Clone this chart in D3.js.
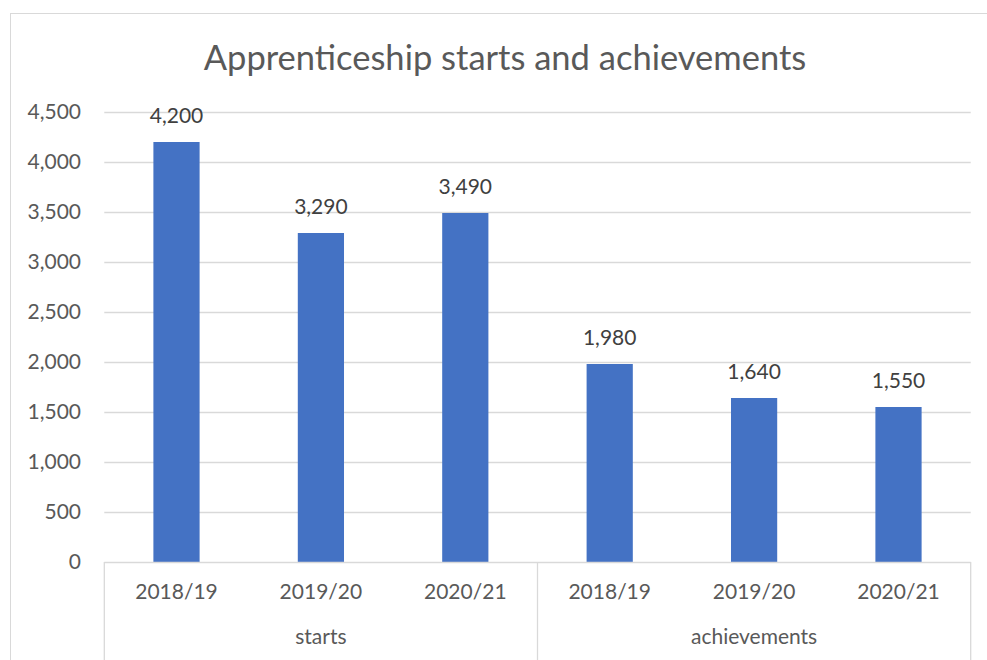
<!DOCTYPE html>
<html><head><meta charset="utf-8">
<script src="https://cdn.jsdelivr.net/npm/d3@7"></script>
<style>html,body{margin:0;padding:0;background:#fff;}svg{display:block;font-family:Lato,"Open Sans",sans-serif;}</style>
</head><body>
<script>
const title = "Apprenticeship starts and achievements";
const years = ["2018/19","2019/20","2020/21","2018/19","2019/20","2020/21"];
const groups = ["starts","achievements"];
const values = [4200,3290,3490,1980,1640,1550];
const yTicks = [0,500,1000,1500,2000,2500,3000,3500,4000,4500];

(function(){
const W = 987, H = 660;
const pLeft = 104.3, pRight = 970.7, pTop = 112, pBottom = 562;
const svg = d3.select("body").append("svg").attr("width", W).attr("height", H);

// chart border
svg.append("rect").attr("x",10.5).attr("y",13.5).attr("width",W).attr("height",H)
  .attr("fill","none").attr("stroke","#d9d9d9").attr("stroke-width",1);

const x = d3.scaleBand().domain(d3.range(values.length)).range([pLeft,pRight])
  .paddingInner(0.68).paddingOuter(0.34);
const y = d3.scaleLinear().domain([0,4500]).range([pBottom,pTop]);

// gridlines
svg.append("g").selectAll("line").data(yTicks.filter(d=>d>0)).join("line")
  .attr("x1",pLeft).attr("x2",pRight)
  .attr("y1",d=>Math.round(y(d))+0.5).attr("y2",d=>Math.round(y(d))+0.5)
  .attr("stroke","#d9d9d9").attr("stroke-width",1.3);

// y axis labels
const yAxis = d3.axisLeft(y).tickValues(yTicks).tickFormat(d3.format(",")).tickSize(0).tickPadding(0);
const ya = svg.append("g").attr("transform",`translate(81,0)`).call(yAxis);
ya.select(".domain").remove();
ya.selectAll("text").attr("fill","#595959").style("font-size","21px").style("font-family","Lato");

// bars
svg.append("g").selectAll("rect").data(values).join("rect")
  .attr("x",(d,i)=>x(i)).attr("width",x.bandwidth())
  .attr("y",d=>y(d)).attr("height",d=>y(0)-y(d))
  .attr("fill","#4472c4");

// data labels
svg.append("g").selectAll("text").data(values).join("text")
  .attr("x",(d,i)=>x(i)+x.bandwidth()/2).attr("y",d=>y(d)-19)
  .attr("text-anchor","middle").attr("fill","#404040")
  .style("font-size","21px").text(d=>d3.format(",")(d));

// category axis
const xa = d3.scaleBand().domain(d3.range(values.length)).range([pLeft,pRight]);
svg.append("line").attr("x1",pLeft).attr("x2",pRight).attr("y1",pBottom+0.5).attr("y2",pBottom+0.5)
  .attr("stroke","#d9d9d9").attr("stroke-width",1.3);
[0,3,6].forEach(i=>{
  const xx = i<6 ? xa(i) : pRight;
  svg.append("line").attr("x1",xx).attr("x2",xx).attr("y1",pBottom).attr("y2",H)
    .attr("stroke","#d9d9d9").attr("stroke-width",1.3);
});
svg.append("g").selectAll("text").data(years).join("text")
  .attr("x",(d,i)=>xa(i)+xa.bandwidth()/2).attr("y",599)
  .attr("text-anchor","middle").attr("fill","#595959").style("font-size","21px").text(d=>d);
svg.append("g").selectAll("text").data(groups).join("text")
  .attr("x",(d,i)=>(xa(i*3)+xa(i*3+2)+xa.bandwidth())/2).attr("y",644)
  .attr("text-anchor","middle").attr("fill","#595959").style("font-size","21px").text(d=>d);

// title
svg.append("text").attr("x",505).attr("y",70).attr("text-anchor","middle")
  .attr("fill","#595959").style("font-size","34.5px").text(title);
})();
</script>
</body></html>
